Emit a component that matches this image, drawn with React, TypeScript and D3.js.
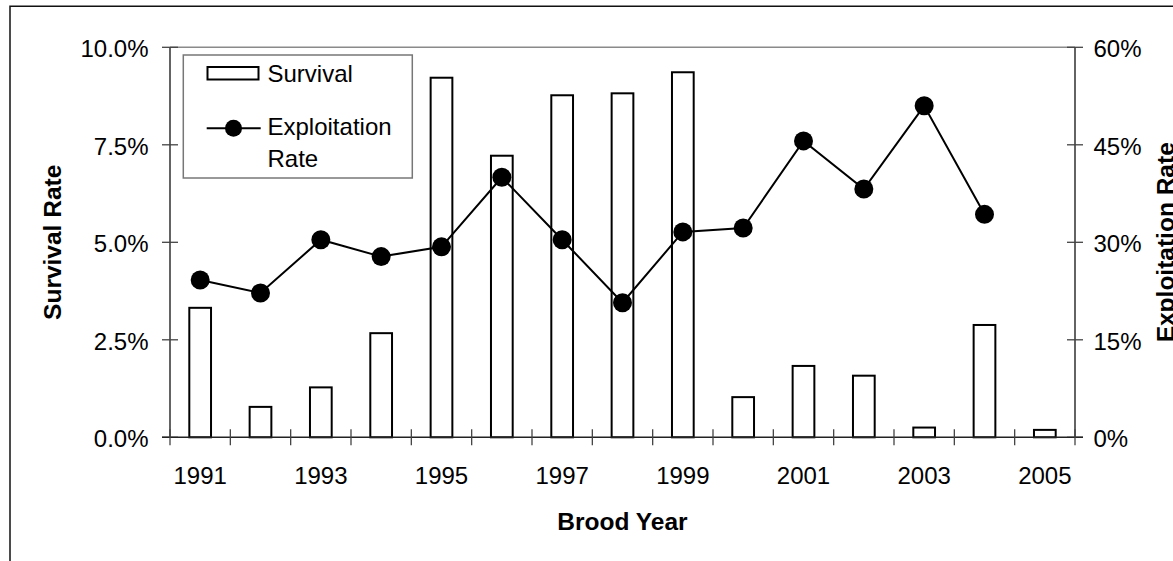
import React from 'react';
import * as d3 from 'd3';

// brood years, survival (%) and exploitation rate (%)
const years = ['1991', '1992', '1993', '1994', '1995', '1996', '1997', '1998', '1999', '2000', '2001', '2002', '2003', '2004', '2005'];
const survival = [3.32, 0.78, 1.28, 2.67, 9.22, 7.22, 8.77, 8.82, 9.36, 1.03, 1.83, 1.58, 0.25, 2.88, 0.19];
const exploitation: (number | null)[] = [24.2, 22.2, 30.4, 27.8, 29.3, 40.0, 30.4, 20.7, 31.6, 32.2, 45.6, 38.2, 51.0, 34.3, null];
const leftTicks = [0, 2.5, 5, 7.5, 10];
const rightTicks = [0, 15, 30, 45, 60];
const labelledYears = ['1991', '1993', '1995', '1997', '1999', '2001', '2003', '2005'];

const W = 1173;
const H = 561;
const plot = { left: 170, right: 1075, top: 47.3, bottom: 437.3 };
const FONT = '"Liberation Sans", Arial, sans-serif';

export default function App() {
  const x = d3.scaleBand<string>().domain(years).range([plot.left, plot.right]).padding(0);
  const yL = d3.scaleLinear().domain([0, 10]).range([plot.bottom, plot.top]);
  const yR = d3.scaleLinear().domain([0, 60]).range([plot.bottom, plot.top]);
  const barW = x.bandwidth() * 0.36;
  const cx = (y: string) => (x(y) as number) + x.bandwidth() / 2;

  const boundaries = [...years.map((y) => x(y) as number), plot.right];
  const pts = years.map((y, i) => ({ year: y, v: exploitation[i] }));
  const line = d3
    .line<{ year: string; v: number | null }>()
    .defined((d) => d.v != null)
    .x((d) => cx(d.year))
    .y((d) => yR(d.v as number));

  const fmtL = d3.format('.1f');
  const tickLen = 8;
  const axisCol = '#222';
  const tickCol = '#444';

  // legend box
  const lg = { x: 183.3, y: 55, w: 229, h: 123 };

  return (
    <svg width={W} height={H} style={{ position: 'absolute', left: 0, top: 0, display: 'block', background: '#fff' }} fontFamily={FONT}>
      {/* outer frame */}
      <path d={`M10,${H} L10,6.3 L${W},6.3`} fill="none" stroke="#111" strokeWidth={1.5} />

      {/* top plot border */}
      <line x1={plot.left} x2={plot.right} y1={plot.top} y2={plot.top} stroke="#8a8a8a" strokeWidth={1.4} />

      {/* bars */}
      {years.map((y, i) => (
        <rect
          key={y}
          x={cx(y) - barW / 2}
          y={yL(survival[i])}
          width={barW}
          height={plot.bottom - yL(survival[i])}
          fill="#fff"
          stroke="#000"
          strokeWidth={2}
        />
      ))}

      {/* exploitation line */}
      <path d={line(pts) || ''} fill="none" stroke="#000" strokeWidth={2} />
      {pts
        .filter((d) => d.v != null)
        .map((d) => (
          <circle key={d.year} cx={cx(d.year)} cy={yR(d.v as number)} r={9.5} fill="#000" />
        ))}

      {/* left axis */}
      <line x1={plot.left} x2={plot.left} y1={plot.top} y2={plot.bottom} stroke={axisCol} strokeWidth={1.4} />
      {leftTicks.map((t) => (
        <g key={t}>
          <line x1={plot.left - tickLen} x2={plot.left + tickLen} y1={yL(t)} y2={yL(t)} stroke={tickCol} strokeWidth={1.3} />
          <text x={148.5} y={yL(t) + 10} textAnchor="end" fontSize={24} fill="#000">
            {fmtL(t) + '%'}
          </text>
        </g>
      ))}

      {/* right axis */}
      <line x1={plot.right} x2={plot.right} y1={plot.top} y2={plot.bottom} stroke={axisCol} strokeWidth={1.4} />
      {rightTicks.map((t) => (
        <g key={t}>
          <line x1={plot.right - tickLen} x2={plot.right + tickLen} y1={yR(t)} y2={yR(t)} stroke={tickCol} strokeWidth={1.3} />
          <text x={1093.5} y={yR(t) + 10} textAnchor="start" fontSize={24} fill="#000">
            {t + '%'}
          </text>
        </g>
      ))}

      {/* x axis */}
      <line x1={plot.left - tickLen} x2={plot.right + tickLen} y1={plot.bottom} y2={plot.bottom} stroke={axisCol} strokeWidth={1.4} />
      {boundaries.map((b, i) => (
        <line key={i} x1={b} x2={b} y1={plot.bottom - tickLen} y2={plot.bottom + tickLen} stroke={tickCol} strokeWidth={1.3} />
      ))}
      {labelledYears.map((y) => (
        <text key={y} x={cx(y)} y={484.3} textAnchor="middle" fontSize={24} fill="#000">
          {y}
        </text>
      ))}

      {/* axis titles */}
      <text x={622.5} y={530} textAnchor="middle" fontSize={24.5} fontWeight="bold" fill="#000">
        Brood Year
      </text>
      <text transform={`translate(61,${(plot.top + plot.bottom) / 2}) rotate(-90)`} textAnchor="middle" fontSize={24.5} fontWeight="bold" fill="#000">
        Survival Rate
      </text>
      <text transform={`translate(1174,${(plot.top + plot.bottom) / 2}) rotate(-90)`} textAnchor="middle" fontSize={24.5} fontWeight="bold" fill="#000">
        Exploitation Rate
      </text>

      {/* legend */}
      <rect x={lg.x} y={lg.y} width={lg.w} height={lg.h} fill="#fff" stroke="#777" strokeWidth={1.5} />
      <rect x={207.5} y={67} width={51} height={12.5} fill="#fff" stroke="#000" strokeWidth={2} />
      <text x={267.5} y={81.7} fontSize={24} fill="#000">
        Survival
      </text>
      <line x1={206.7} x2={260.7} y1={128.3} y2={128.3} stroke="#000" strokeWidth={2} />
      <circle cx={233.5} cy={128.3} r={8.5} fill="#000" />
      <text x={267.5} y={135} fontSize={24} fill="#000">
        Exploitation
      </text>
      <text x={267.5} y={166.7} fontSize={24} fill="#000">
        Rate
      </text>
    </svg>
  );
}
